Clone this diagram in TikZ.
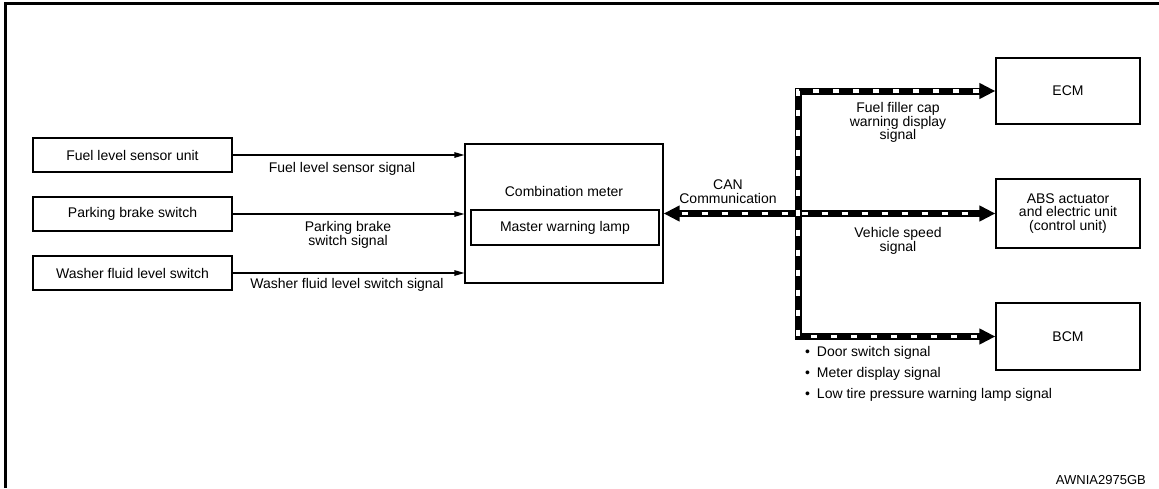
\documentclass[tikz,border=0pt]{standalone}
\usepackage{fontspec}
\setmainfont{Liberation Sans}
\usetikzlibrary{arrows.meta}

\begin{document}
\begin{tikzpicture}[x=1pt,y=-1pt,
    txt/.style={inner sep=0pt,align=center,font=\fontsize{14}{13.5}\selectfont},
    box/.style={txt,draw,line width=1.2pt},
    sigline/.style={line width=1.2pt,-{Triangle[length=10pt,width=5.5pt]}},
    canbus/.style={line width=7pt,line join=miter},
    candash/.style={white,line width=3.5pt,dash pattern=on 6pt off 14pt}]
    \useasboundingbox (0,0) rectangle (1159,488);
    \draw[line width=2.8pt] (5.3,488) -- (5.3,3.3) -- (1159,3.3);
    % input switches and sensor
    \node[box,minimum width=199pt,minimum height=34pt] (fuel) at (132.5,155) {Fuel level sensor unit};
    \node[box,minimum width=199pt,minimum height=34pt] (brake) at (132.5,214) {Parking brake switch};
    \node[box,minimum width=199pt,minimum height=34pt] (washer) at (132.5,273) {Washer fluid level switch};
    % combination meter
    \node[box,minimum width=198pt,minimum height=139pt] (meter) at (564,213.5) {};
    \node[txt] (metertxt) at (564,191) {Combination meter};
    \node[box,minimum width=188pt,minimum height=35pt] (lamp) at (565,227.5) {Master warning lamp};
    % units on CAN
    \node[box,minimum width=144pt,minimum height=66pt] (ecm) at (1068,91) {ECM};
    \node[box,minimum width=144pt,minimum height=69pt] (abs) at (1068,213.5) {ABS actuator\\and electric unit\\(control unit)};
    \node[box,minimum width=144pt,minimum height=67pt] (bcm) at (1068,336.5) {BCM};
    \draw[sigline] (fuel.east) -- (fuel.east -| meter.west);
    \draw[sigline] (brake.east) -- (brake.east -| meter.west);
    \draw[sigline] (washer.east) -- (washer.east -| meter.west);
    \node[txt] (fuelsig) at (342,169) {Fuel level sensor signal};
    \node[txt] (brakesig) at (348,235) {Parking brake\\switch signal};
    \node[txt] (washersig) at (347,285) {Washer fluid level switch signal};
    % CAN lines
    \coordinate (bustop) at (798,91);
    \coordinate (busbot) at (798,336.5);
    \draw[canbus,{Triangle[length=16pt,width=15pt]}-{Triangle[length=16pt,width=15pt]}] (ecm.west) -- (bustop) -- (busbot) -- (bcm.west);
    \draw[canbus,{Triangle[length=16pt,width=15pt]}-{Triangle[length=16pt,width=15pt]}] (meter.east) -- (abs.west);
    \draw[candash] ([xshift=-16pt]ecm.west) -- (bustop) -- (busbot) -- ([xshift=-16pt]bcm.west);
    \draw[candash] ([xshift=18pt]meter.east) -- ([xshift=-16pt]abs.west);
    \node[txt] (cantxt) at (728,191.5) {CAN\\Communication};
    \node[txt] (ecmsig) at (898,122.5) {Fuel filler cap\\warning display\\signal};
    \node[txt] (abssig) at (898,241) {Vehicle speed\\signal};
    \node[txt,anchor=west] (door) at (805,353) {\textbullet\hspace{3pt} Door switch signal};
    \node[txt,anchor=west] (disp) at (805,374) {\textbullet\hspace{3pt} Meter display signal};
    \node[txt,anchor=west] (tire) at (805,395) {\textbullet\hspace{3pt} Low tire pressure warning lamp signal};
    \node[txt,anchor=east,font=\fontsize{13}{13}\selectfont] (code) at (1146,480) {AWNIA2975GB};
\end{tikzpicture}
\end{document}
